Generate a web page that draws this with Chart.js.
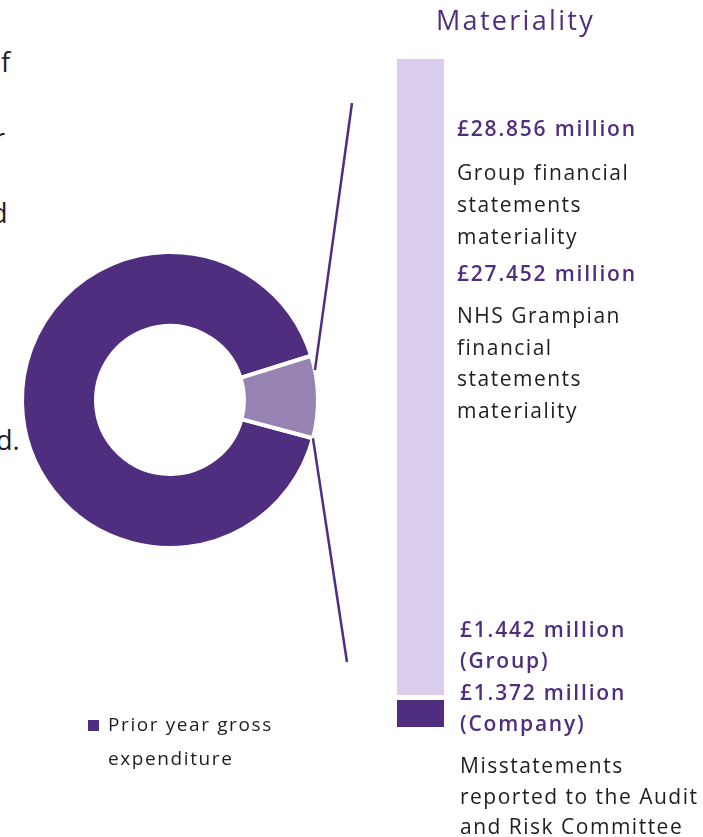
<!DOCTYPE html>
<html>
<head>
<meta charset="utf-8">
<script src="https://cdn.jsdelivr.net/npm/chart.js@4"></script>
<style>
	body { margin: 0; width: 703px; height: 837px; overflow: hidden; background: #fff; font-family: "Open Sans", Lato, sans-serif; position: relative; }
	canvas { position: absolute; }
	.t { position: absolute; white-space: nowrap; font-size: 21px; color: #1e1e1e; letter-spacing: 1.5px; }
	.p { color: #4f2d7f; font-weight: 600; letter-spacing: 1.8px; }
	.frag { position: absolute; font-size: 27px; color: #1e1e1e; line-height: 30px; }
	#legend { position: absolute; left: 88px; top: 707px; font-size: 19px; color: #1e1e1e; line-height: 34px; letter-spacing: 1.6px; }
	#legend span.box { position: absolute; left: 0; top: 13px; width: 11px; height: 11px; }
	#legend div.txt { position: absolute; left: 20px; top: 0; white-space: nowrap; }
</style>
</head>
<body>

<div class="frag" style="left:1px; top:47px;">f</div>
<div class="frag" style="left:-6px; top:123px;">r</div>
<div class="frag" style="left:-9px; top:198px;">d</div>
<div class="frag" style="left:-4px; top:425px;">d.</div>

<canvas id="donut" width="380" height="837" style="left:0; top:0;"></canvas>
<canvas id="bar" width="100" height="837" style="left:380px; top:0;"></canvas>

<div class="t p" style="left:436px; top:2px; font-size:27px; line-height:36px; font-weight:500; letter-spacing:2.3px;">Materiality</div>

<div class="t p" style="left:457px; top:113px; line-height:31px;">£28.856 million</div>
<div class="t" style="left:457px; top:156px; line-height:32px;">Group financial<br>statements<br>materiality</div>

<div class="t p" style="left:457px; top:258px; line-height:31px;">£27.452 million</div>
<div class="t" style="left:457px; top:300px; line-height:31.5px;">NHS Grampian<br>financial<br>statements<br>materiality</div>

<div class="t p" style="left:460px; top:614px; line-height:31.3px;">£1.442 million<br>(Group)<br>£1.372 million<br>(Company)</div>
<div class="t" style="left:460px; top:750px; line-height:30.5px;">Misstatements<br>reported to the Audit<br>and Risk Committee</div>

<div id="legend"></div>

<script>
var donutLabels = ["Prior year gross expenditure", "Materiality"];
var donutValues = [91, 9];
var donutColors = ["#4f2d7f", "#9683b3"];

var barLabels = ["Materiality"];
var barMisstatements = [1.442];
var barMateriality = [28.856];

// connector lines from the small slice to the bar
var connectorPlugin = {
	id: 'connector',
	afterDraw: function(chart){
		var arc = chart.getDatasetMeta(0).data[1];
		var p = arc.getProps(['x', 'y', 'startAngle', 'endAngle', 'outerRadius'], true);
		var r = p.outerRadius;
		var ctx = chart.ctx;
		var a1 = p.startAngle + 0.1;
		var a2 = p.endAngle;
		ctx.save();
		ctx.strokeStyle = "#4f2d7f";
		ctx.lineWidth = 2.5;
		ctx.beginPath();
		ctx.moveTo(p.x + r * Math.cos(a1), p.y + r * Math.sin(a1));
		ctx.lineTo(352, 103);
		ctx.moveTo(p.x + r * Math.cos(a2), p.y + r * Math.sin(a2));
		ctx.lineTo(347, 662);
		ctx.stroke();
		ctx.restore();
	}
};

var donutChart = new Chart(document.getElementById('donut'), {
	type: 'doughnut',
	data: {
		labels: donutLabels,
		datasets: [{
			data: donutValues,
			backgroundColor: donutColors,
			borderColor: "#ffffff",
			borderWidth: 4
		}]
	},
	options: {
		responsive: false,
		animation: false,
		cutout: '50%',
		rotation: 105,
		layout: { padding: { left: 20, right: 60, top: 250, bottom: 287 } },
		plugins: { legend: { display: false }, tooltip: { enabled: false } }
	},
	plugins: [connectorPlugin]
});

var barChart = new Chart(document.getElementById('bar'), {
	type: 'bar',
	data: {
		labels: barLabels,
		datasets: [
			{
				label: 'Misstatements',
				data: barMisstatements,
				backgroundColor: "#4f2d7f",
				borderColor: "#ffffff",
				borderWidth: { top: 5, left: 0, right: 0, bottom: 0 },
				borderSkipped: false
			},
			{
				label: 'Materiality',
				data: barMateriality,
				backgroundColor: "#dacdee"
			}
		]
	},
	options: {
		responsive: false,
		animation: false,
		barPercentage: 1,
		categoryPercentage: 1,
		layout: { padding: { left: 17, right: 36, top: 59, bottom: 110 } },
		scales: {
			x: { stacked: true, display: false },
			y: { stacked: true, display: false, min: 0, max: barMisstatements[0] + barMateriality[0] }
		},
		plugins: { legend: { display: false }, tooltip: { enabled: false } }
	}
});

// legend: only the expenditure slice
var lg = document.getElementById('legend');
lg.innerHTML = '<span class="box" style="background:' + donutColors[0] + '"></span>' +
	'<div class="txt">Prior year gross<br>expenditure</div>';
</script>
</body>
</html>
